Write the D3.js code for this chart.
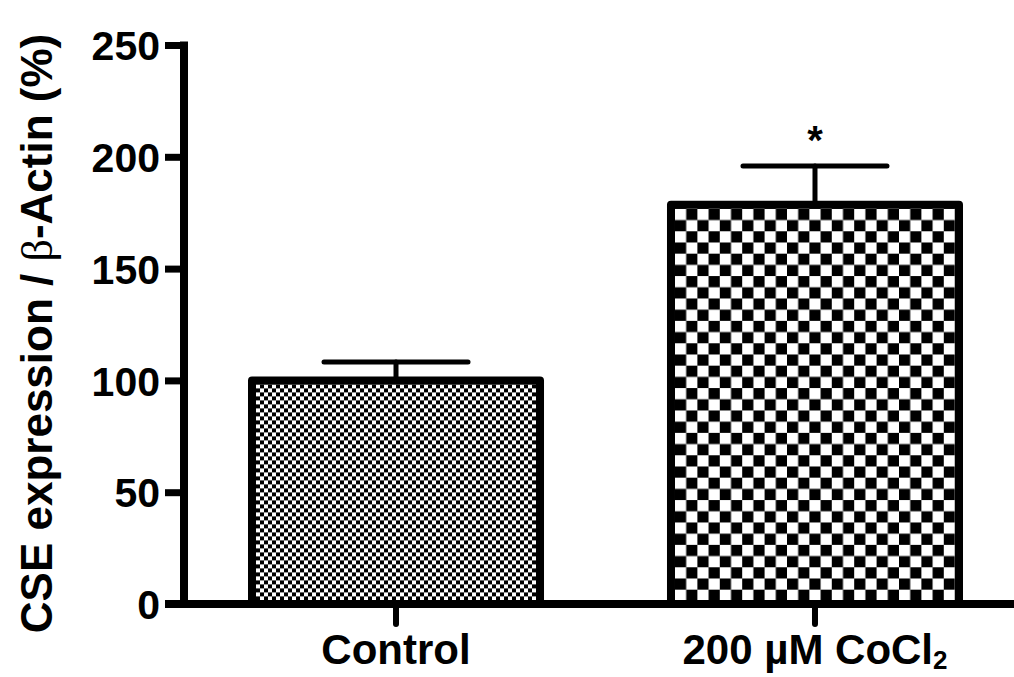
<!DOCTYPE html>
<html>
<head>
<meta charset="utf-8">
<script src="https://cdn.jsdelivr.net/npm/d3@7"></script>
<style>
  html, body { margin: 0; padding: 0; background: #fff; }
  svg { display: block; }
  text { font-family: "Liberation Sans", Arial, sans-serif; font-weight: bold; fill: #000; }
</style>
</head>
<body>
<svg id="chart" width="1014" height="677"></svg>
<script>
// ---- data ----
const categories = ["Control", "200 µM CoCl2"];
const means = [100, 178.5];
const errors = [8.2, 17.4];
const significance = ["", "*"];
const yTicks = [0, 50, 100, 150, 200, 250];
const checkerSizes = [4, 11.2];

const svg = d3.select("#chart");
const W = 1014, H = 677;

const y = d3.scaleLinear().domain([0, 250]).range([604, 45]);
const x = d3.scaleBand().domain(categories).range([252, 959]).paddingInner(0.3126).paddingOuter(0);

const axisX0 = 184; // y axis x position
const defs = svg.append("defs");

// checker patterns aligned to each bar's top-left inner corner
categories.forEach((c, i) => {
  const s = checkerSizes[i];
  const p = defs.append("pattern")
    .attr("id", "chk" + i)
    .attr("patternUnits", "userSpaceOnUse")
    .attr("width", 2 * s).attr("height", 2 * s)
    .attr("x", x(c) + 4).attr("y", y(means[i]) + 4);
  p.append("rect").attr("width", 2 * s).attr("height", 2 * s).attr("fill", "#fff");
  p.append("rect").attr("x", s).attr("y", 0).attr("width", s).attr("height", s).attr("fill", "#000");
  p.append("rect").attr("x", 0).attr("y", s).attr("width", s).attr("height", s).attr("fill", "#000");
});

// error bars
const eb = svg.append("g").attr("stroke", "#000").attr("stroke-width", 5).attr("stroke-linecap", "round");
categories.forEach((c, i) => {
  const cx = x(c) + x.bandwidth() / 2;
  eb.append("line").attr("x1", cx).attr("x2", cx)
    .attr("y1", y(means[i])).attr("y2", y(means[i] + errors[i]));
  eb.append("line")
    .attr("x1", cx - x.bandwidth() / 4).attr("x2", cx + x.bandwidth() / 4)
    .attr("y1", y(means[i] + errors[i])).attr("y2", y(means[i] + errors[i]));
});

// bars
svg.append("g").selectAll("rect").data(categories).join("rect")
  .attr("x", d => x(d))
  .attr("y", (d, i) => y(means[i]))
  .attr("width", x.bandwidth())
  .attr("height", (d, i) => y(0) - y(means[i]))
  .attr("fill", (d, i) => `url(#chk${i})`)
  .attr("stroke", "#000")
  .attr("stroke-width", 8)
  .attr("stroke-linejoin", "round");

// significance
svg.append("g").selectAll("text").data(categories).join("text")
  .attr("x", d => x(d) + x.bandwidth() / 2)
  .attr("y", (d, i) => y(means[i] + errors[i]) - 12)
  .attr("text-anchor", "middle")
  .attr("font-size", 40)
  .text((d, i) => significance[i]);

// y axis
const yAxis = d3.axisLeft(y).tickValues(yTicks).tickSize(19).tickPadding(6).tickFormat(d3.format("d"));
const gy = svg.append("g").attr("transform", `translate(${axisX0},0)`).call(yAxis);
gy.select(".domain").remove();
gy.selectAll(".tick line").attr("stroke", "#000").attr("stroke-width", 7).attr("stroke-linecap", "butt");
gy.selectAll(".tick text").attr("font-size", 41).attr("dy", "0.36em").attr("x", -24)
  .style("font-family", '"Liberation Sans", Arial, sans-serif').style("font-weight", "bold");
gy.append("line").attr("x1", 0).attr("x2", 0).attr("y1", y(250) - 3.5).attr("y2", y(0))
  .attr("stroke", "#000").attr("stroke-width", 8);

// x axis
const xAxis = d3.axisBottom(x).tickSize(20).tickFormat(() => "");
const gx = svg.append("g").attr("transform", `translate(0,${y(0)})`).call(xAxis);
gx.select(".domain").remove();
gx.selectAll(".tick line").attr("stroke", "#000").attr("stroke-width", 6).attr("stroke-linecap", "round");
gx.append("line").attr("x1", 165).attr("x2", W).attr("y1", 0).attr("y2", 0)
  .attr("stroke", "#000").attr("stroke-width", 8);

// x labels
const labels = svg.append("g");
categories.forEach((c, i) => {
  const t = labels.append("text")
    .attr("x", x(c) + x.bandwidth() / 2)
    .attr("y", 664)
    .attr("text-anchor", "middle")
    .attr("font-size", 42);
  if (c.endsWith("CoCl2")) {
    t.append("tspan").text(c.slice(0, -1));
    t.append("tspan").attr("font-size", 26).attr("dy", 5).text("2");
  } else {
    t.text(c);
  }
});

// y label
const yl = svg.append("text")
  .attr("transform", `translate(52,${(y(0) + y(250)) / 2 + 9}) rotate(-90)`)
  .attr("text-anchor", "middle")
  .attr("font-size", 44);
yl.append("tspan").text("CSE expression / ");
yl.append("tspan").style("font-family", '"Liberation Serif", serif').style("font-weight", "normal").text("β");
yl.append("tspan").text("-Actin (%)");
</script>
</body>
</html>
